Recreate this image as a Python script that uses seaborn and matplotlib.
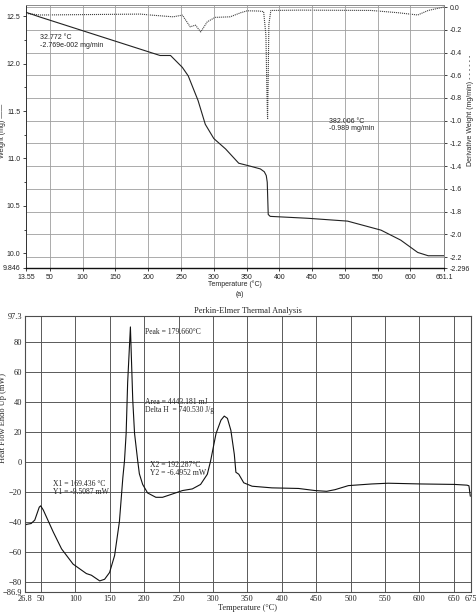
import matplotlib
matplotlib.use("Agg")
import matplotlib.pyplot as plt
import seaborn as sns
import pandas as pd
from matplotlib.ticker import FixedLocator

# ---------------- data: TGA (top panel) ----------------
temp_w = [13.55, 35, 218, 234, 252, 261, 276, 287, 300, 318, 326, 338, 355, 371,
          377, 380, 381.5, 383, 386, 443, 504, 555, 585, 611, 627, 651.1]
weight = [12.54, 12.49, 12.085, 12.085, 11.96, 11.87, 11.61, 11.36, 11.21, 11.10,
          11.04, 10.95, 10.92, 10.89, 10.86, 10.82, 10.75, 10.41, 10.39, 10.37,
          10.34, 10.245, 10.14, 10.01, 9.975, 9.975]

temp_d = [13.55, 35, 188, 203, 238, 252, 264, 272, 280, 290, 302, 325, 341, 351,
          368, 376, 379.5, 381, 382, 383, 384, 387, 432, 540, 581, 611, 627, 651.1]
deriv = [-0.056, -0.07, -0.062, -0.07, -0.086, -0.071, -0.174, -0.159, -0.219,
         -0.13, -0.091, -0.086, -0.05, -0.033, -0.035, -0.04, -0.25, -0.75,
         -0.989, -0.6, -0.15, -0.03, -0.027, -0.03, -0.05, -0.07, -0.03, 0.0]

top_xticks = [13.55, 50, 100, 150, 200, 250, 300, 350, 400, 450, 500, 550, 600, 651.1]
top_xlabels = ["13.55", "50", "100", "150", "200", "250", "300", "350", "400",
               "450", "500", "550", "600", "651.1"]
left_ticks = [9.846, 10.0, 10.5, 11.0, 11.5, 12.0, 12.5]
left_labels = ["9.846", "10.0", "10.5", "11.0", "11.5", "12.0", "12.5"]
left_minor = [10.25, 10.75, 11.25, 11.75, 12.25]
right_ticks = [-2.296, -2.2, -2.0, -1.8, -1.6, -1.4, -1.2, -1.0, -0.8, -0.6, -0.4, -0.2, 0.0]
right_labels = ["-2.296", "-2.2", "-2.0", "-1.8", "-1.6", "-1.4", "-1.2", "-1.0",
                "-0.8", "-0.6", "-0.4", "-0.2", "0.0"]

# ---------------- data: DSC (bottom panel) ----------------
temp_h = [26.8, 28.5, 35.7, 41, 47.5, 49.5, 53.3, 67.8, 79.9, 96.7, 116, 123.3,
          135.4, 142.5, 149.7, 157, 164, 169, 171.4, 173.8, 176, 180, 183.4, 186,
          190.6, 193, 197.8, 205, 217, 226.7, 241, 255.6, 270, 282, 291.8, 296.6,
          304.4, 311.6, 316.4, 321, 326, 331, 333.3, 337.5, 344.7, 356.8, 385.7,
          424.3, 448.4, 465.2, 477.4, 496.8, 530.5, 554.6, 602.8, 651, 669.2, 672, 674]
heat = [-42.5, -41.8, -41.2, -38.9, -30.3, -29.4, -32.1, -46.8, -58.1, -68.3, -74.6,
        -75.7, -79.5, -78.4, -73.9, -62.6, -40, -10.6, 0.7, 19, 53, 90, 41.3, 19,
        0.7, -8, -15.1, -20.8, -23.7, -23.7, -21.5, -19.2, -18.1, -15.1, -8.3, 0.7,
        18.8, 27.8, 30.5, 29, 21, 5, -7, -8.3, -14, -16.3, -17.4, -17.8, -19.2,
        -19.7, -18.6, -15.9, -14.8, -14.3, -14.8, -15.1, -15.6, -16, -23]

bot_xticks = [26.8, 50, 100, 150, 200, 250, 300, 350, 400, 450, 500, 550, 600, 650, 675]
bot_xlabels = ["26.8", "50", "100", "150", "200", "250", "300", "350", "400", "450",
               "500", "550", "600", "650", "675"]
bot_yticks = [-86.9, -80, -60, -40, -20, 0, 20, 40, 60, 80, 97.3]
bot_ylabels = ["\u221286.9", "\u221280", "\u221260", "\u221240", "\u221220", "0", "20",
               "40", "60", "80", "97.3"]

# ---------------- figure ----------------
sns.set_theme(style="white")
plt.rcParams["axes.unicode_minus"] = False
SANS = "Liberation Sans"
SERIF = "Liberation Serif"

W, H = 477, 616
fig = plt.figure(figsize=(W / 100, H / 100), dpi=100)

# ---- top panel ----
ax1 = fig.add_axes([26 / W, 1 - 268 / H, (444 - 26) / W, (268 - 5) / H])
ax2 = ax1.twinx()

sns.lineplot(x=temp_d, y=deriv, ax=ax2, color="#444444", lw=0.8,
             linestyle=(0, (1, 0.8)), sort=False, estimator=None)
sns.lineplot(x=temp_w, y=weight, ax=ax1, color="#222222", lw=0.8,
             sort=False, estimator=None)

ax1.set_xlim(13.55, 651.1)
ax1.set_ylim(9.846, 12.617)
ax2.set_ylim(-2.296, 0.018)

ax1.set_xticks(top_xticks)
ax1.set_xticklabels(top_xlabels, fontsize=5, family=SANS)
ax1.set_yticks(left_ticks)
ax1.set_yticklabels(left_labels, fontsize=5, family=SANS)
ax1.yaxis.set_minor_locator(FixedLocator(left_minor))
ax2.set_yticks(right_ticks)
ax2.set_yticklabels(right_labels, fontsize=5, family=SANS)

ax1.tick_params(axis="x", bottom=True, length=2, width=0.6, pad=2, colors="#222222")
ax1.tick_params(axis="y", which="both", left=True, length=2, width=0.6, pad=2, colors="#222222")
ax1.tick_params(axis="y", which="minor", length=1.5)
ax2.tick_params(axis="y", right=True, length=2, width=0.6, pad=2, colors="#222222")

ax1.xaxis.grid(True, color="0.62", lw=0.6)
ax1.yaxis.grid(False)
ax2.yaxis.grid(True, color="0.62", lw=0.6)
ax2.xaxis.grid(False)
ax1.set_zorder(ax2.get_zorder() + 1)
ax1.patch.set_visible(False)

for a in (ax1, ax2):
    for s in a.spines.values():
        s.set_linewidth(0.6)
        s.set_color("0.55")
ax1.spines["bottom"].set_color("#111111")
ax1.spines["bottom"].set_linewidth(1.0)
ax1.spines["left"].set_color("#222222")
ax2.spines["right"].set_color("#333333")

ax1.set_xlabel("Temperature (\u00b0C)", fontsize=5, family=SANS, labelpad=0)
ax1.set_ylabel("Weight (mg) \u2014\u2014", fontsize=5, family=SANS)
ax1.yaxis.set_label_coords(-0.047, 0.52)
ax2.set_ylabel("Derivative Weight (mg/min) - - - - - -", fontsize=5, family=SANS)
ax2.yaxis.set_label_coords(1.056, 0.6)

ax1.text(35, 12.235, "32.772 \u00b0C\n-2.769e-002 mg/min", fontsize=5, family=SANS,
         va="center", ha="left", color="#222222", linespacing=1.1)
ax2.text(475, -1.04, "382.006 \u00b0C\n-0.989 mg/min", fontsize=5, family=SANS,
         va="center", ha="left", color="#222222", linespacing=1.1)

fig.text(240 / W, 1 - 295 / H, "(a)", fontsize=5, family=SANS, ha="center", va="center")

# ---- bottom panel ----
ax3 = fig.add_axes([25 / W, 1 - 592 / H, (471 - 25) / W, (592 - 316) / H])
sns.lineplot(x=temp_h, y=heat, ax=ax3, color="#111111", lw=0.8, sort=False, estimator=None)
ax3.set_xlim(26.8, 675)
ax3.set_ylim(-86.9, 97.3)
ax3.set_xticks(bot_xticks)
ax3.set_xticklabels(bot_xlabels, fontsize=6, family=SERIF)
ax3.set_yticks(bot_yticks)
ax3.set_yticklabels(bot_ylabels, fontsize=6, family=SERIF)
ax3.tick_params(axis="both", length=0, pad=2, colors="#222222")
ax3.grid(True, color="0.35", lw=0.7)
for s in ax3.spines.values():
    s.set_color("0.3")
    s.set_linewidth(0.8)

ax3.set_title("Perkin-Elmer Thermal Analysis", fontsize=6, family=SERIF, pad=2)
ax3.set_xlabel("Temperature (\u00b0C)", fontsize=6, family=SERIF, labelpad=1)
ax3.set_ylabel("Heat Flow Endo Up (mW)", fontsize=6, family=SERIF)
ax3.yaxis.set_label_coords(-0.041, 0.63)

ax3.text(201.7, 86.8, "Peak = 179.660\u00b0C", fontsize=5.5, family=SERIF, va="center", ha="left")
ax3.text(201.7, 37.3, "Area = 4443.181 mJ\nDelta H  = 740.530 J/g", fontsize=5.5,
         family=SERIF, va="center", ha="left", linespacing=1.0)
ax3.text(67.3, -17.3, "X1 = 169.436 \u00b0C\nY1 = -9.5087 mW", fontsize=5.5,
         family=SERIF, va="center", ha="left", linespacing=1.0)
ax3.text(209, -5.1, "X2 = 192.287\u00b0C\nY2 = -6.4952 mW", fontsize=5.5,
         family=SERIF, va="center", ha="left", linespacing=1.0)

fig.savefig("out.png", dpi=100)
